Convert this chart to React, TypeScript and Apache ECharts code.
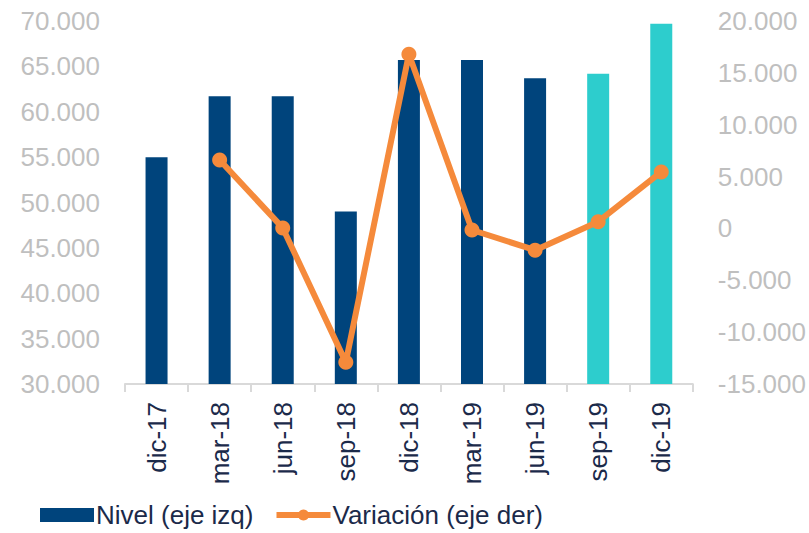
import React, { useEffect, useRef } from "react";
import * as echarts from "echarts";

const categories = ["dic-17", "mar-18", "jun-18", "sep-18", "dic-18", "mar-19", "jun-19", "sep-19", "dic-19"];
const nivel = [55000, 61700, 61700, 49000, 65700, 65700, 63700, 64200, 69700];
const variacion: (number | null)[] = [null, 6600, 50, -12900, 16800, -150, -2100, 650, 5450];
const highlightFrom = 7;

const BLUE = "#00447C";
const CYAN = "#2DCDCD";
const ORANGE = "#F58A3B";
const GRAY = "#BFBFBF";
const NAVY = "#1B2A4A";
const FONT = "'Liberation Sans', Arial, sans-serif";

function fmt(v: number): string {
  const neg = v < 0;
  const s = Math.abs(Math.round(v)).toString().replace(/\B(?=(\d{3})+(?!\d))/g, ".");
  return (neg ? "-" : "") + s;
}

export default function App() {
  const ref = useRef<HTMLDivElement>(null);
  useEffect(() => {
    if (!ref.current) return;
    const chart = echarts.init(ref.current, null, { renderer: "svg" });
    chart.setOption({
      animation: false,
      backgroundColor: "#ffffff",
      grid: { left: 125, right: 116, top: 21, bottom: 149, containLabel: false },
      legend: {
        left: 40,
        top: 502,
        padding: 0,
        itemWidth: 54,
        itemHeight: 14,
        itemGap: 20,
        textStyle: { fontFamily: FONT, fontSize: 26, color: NAVY, padding: [0, 0, 0, -3] },
        data: [
          { name: "Nivel (eje izq)", icon: "rect", itemStyle: { color: BLUE } },
          { name: "Variación (eje der)", lineStyle: { width: 6, color: ORANGE }, itemStyle: { color: ORANGE } },
        ],
      },
      xAxis: {
        type: "category",
        data: categories,
        boundaryGap: true,
        axisLine: { onZero: false, lineStyle: { color: "#D9D9D9", width: 2 } },
        axisTick: { show: true, length: 8, lineStyle: { color: "#D9D9D9", width: 2 } },
        axisLabel: { rotate: 90, margin: 18, fontFamily: FONT, fontSize: 26, color: NAVY, interval: 0 },
      },
      yAxis: [
        {
          type: "value",
          min: 30000,
          max: 70000,
          interval: 5000,
          position: "left",
          splitLine: { show: false },
          axisLine: { show: false },
          axisTick: { show: false },
          axisLabel: { margin: 25, fontFamily: FONT, fontSize: 26, color: GRAY, formatter: (v: number) => fmt(v) },
        },
        {
          type: "value",
          min: -15000,
          max: 20000,
          interval: 5000,
          position: "right",
          splitLine: { show: false },
          axisLine: { show: false },
          axisTick: { show: false },
          axisLabel: { margin: 25, fontFamily: FONT, fontSize: 26, color: GRAY, formatter: (v: number) => fmt(v) },
        },
      ],
      series: [
        {
          name: "Nivel (eje izq)",
          type: "bar",
          yAxisIndex: 0,
          barWidth: 22,
          itemStyle: { color: BLUE },
          data: nivel.map((v, i) => ({ value: v, itemStyle: { color: i >= highlightFrom ? CYAN : BLUE } })),
        },
        {
          name: "Variación (eje der)",
          type: "line",
          yAxisIndex: 1,
          symbol: "circle",
          symbolSize: 15,
          lineStyle: { color: ORANGE, width: 6 },
          itemStyle: { color: ORANGE },
          data: variacion,
        },
      ],
    });
    return () => chart.dispose();
  }, []);
  return <div ref={ref} style={{ width: 809, height: 533, position: "absolute", left: 0, top: 0 }} />;
}
